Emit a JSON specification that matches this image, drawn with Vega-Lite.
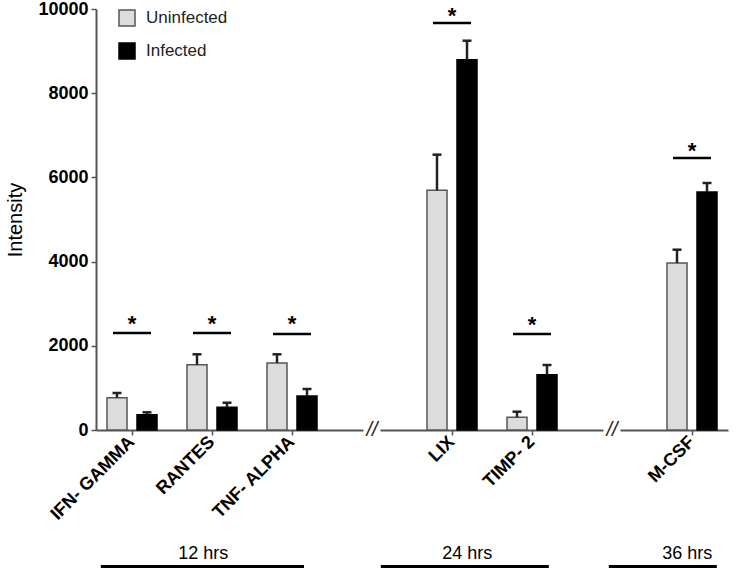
{
  "$schema": "https://vega.github.io/schema/vega-lite/v6.json",
  "width": 632,
  "height": 421,
  "padding": {"left": 5, "top": 0, "right": 5, "bottom": 2},
  "config": {
    "view": {"stroke": null},
    "font": "Liberation Sans",
    "axis": {"grid": false}
  },
  "datasets": {
    "bars": [
      {"cat": "IFN- GAMMA", "status": "Uninfected", "value": 767, "err": 879},
      {"cat": "IFN- GAMMA", "status": "Infected", "value": 364, "err": 420},
      {"cat": "RANTES", "status": "Uninfected", "value": 1551, "err": 1798},
      {"cat": "RANTES", "status": "Infected", "value": 539, "err": 648},
      {"cat": "TNF- ALPHA", "status": "Uninfected", "value": 1591, "err": 1798},
      {"cat": "TNF- ALPHA", "status": "Infected", "value": 808, "err": 974},
      {"cat": "LIX", "status": "Uninfected", "value": 5693, "err": 6540},
      {"cat": "LIX", "status": "Infected", "value": 8796, "err": 9247},
      {"cat": "TIMP- 2", "status": "Uninfected", "value": 302, "err": 435},
      {"cat": "TIMP- 2", "status": "Infected", "value": 1314, "err": 1544},
      {"cat": "M-CSF", "status": "Uninfected", "value": 3967, "err": 4283},
      {"cat": "M-CSF", "status": "Infected", "value": 5653, "err": 5867}
    ],
    "sig": [
      {"cat": "IFN- GAMMA", "line": 2304, "star": 2589},
      {"cat": "RANTES", "line": 2304, "star": 2589},
      {"cat": "TNF- ALPHA", "line": 2280, "star": 2589},
      {"cat": "LIX", "line": 9667, "star": 9905},
      {"cat": "TIMP- 2", "line": 2280, "star": 2565},
      {"cat": "M-CSF", "line": 6460, "star": 6700}
    ],
    "breaks": [
      {"cat": "break1", "y": 0, "mark": "//"},
      {"cat": "break2", "y": 0, "mark": "//"}
    ],
    "groups": [
      {"label": "12 hrs", "start": -0.39, "end": 2.15, "mid": 0.89, "ytext": -2950, "yline": -3240},
      {"label": "24 hrs", "start": 3.11, "end": 5.21, "mid": 4.19, "ytext": -2950, "yline": -3240},
      {"label": "36 hrs", "start": 5.96, "end": 7.31, "mid": 6.94, "ytext": -2950, "yline": -3240}
    ]
  },
  "resolve": {"scale": {"x": "independent"}, "axis": {"x": "independent", "y": "independent"}},
  "layer": [
    {
      "encoding": {
        "x": {
          "field": "cat",
          "type": "nominal",
          "sort": null,
          "scale": {
            "domain": ["IFN- GAMMA", "RANTES", "TNF- ALPHA", "break1", "LIX", "TIMP- 2", "break2", "M-CSF"],
            "paddingInner": 0.375,
            "paddingOuter": 0.1375
          },
          "axis": {
            "title": null,
            "values": ["IFN- GAMMA", "RANTES", "TNF- ALPHA", "LIX", "TIMP- 2", "M-CSF"],
            "labelAngle": -45,
            "labelAlign": "right",
            "labelBaseline": "middle",
            "labelFontSize": 18,
            "labelFontWeight": "bold",
            "labelColor": "#000",
            "labelPadding": 4,
            "domainColor": "#555",
            "domainWidth": 2,
            "tickColor": "#555",
            "tickSize": 5,
            "tickWidth": 1.5
          }
        }
      },
      "layer": [
        {
          "data": {"name": "bars"},
          "mark": {"type": "bar", "strokeWidth": 1.5},
          "encoding": {
            "xOffset": {
              "field": "status",
              "type": "nominal",
              "scale": {"domain": ["Uninfected", "Infected"], "paddingInner": 0.3333, "paddingOuter": 0}
            },
            "y": {
              "field": "value",
              "type": "quantitative",
              "scale": {"domain": [0, 10000], "nice": false},
              "axis": {
                "title": "Intensity",
                "titleFontSize": 20,
                "titleFontWeight": "normal",
                "titleColor": "#000",
                "titlePadding": 12,
                "values": [0, 2000, 4000, 6000, 8000, 10000],
                "format": "d",
                "labelFontSize": 18,
                "labelFontWeight": "bold",
                "labelColor": "#000",
                "labelPadding": 3,
                "domainColor": "#555",
                "domainWidth": 2,
                "tickColor": "#555",
                "tickSize": 5,
                "tickWidth": 1.5
              }
            },
            "color": {
              "field": "status",
              "type": "nominal",
              "scale": {"domain": ["Uninfected", "Infected"], "range": ["#dcdcdc", "#000000"]},
              "legend": {
                "title": null,
                "orient": "none",
                "legendX": 22,
                "legendY": 0,
                "padding": 0,
                "symbolType": "square",
                "symbolSize": 256,
                "symbolStrokeWidth": 1.5,
                "labelFontSize": 17,
                "labelColor": "#222",
                "labelOffset": 10,
                "rowPadding": 11
              }
            },
            "stroke": {
              "field": "status",
              "type": "nominal",
              "scale": {"domain": ["Uninfected", "Infected"], "range": ["#555555", "#000000"]},
              "legend": {
                "title": null,
                "orient": "none",
                "legendX": 22,
                "legendY": 0,
                "padding": 0,
                "symbolType": "square",
                "symbolSize": 256,
                "symbolStrokeWidth": 1.5,
                "labelFontSize": 17,
                "labelColor": "#222",
                "labelOffset": 10,
                "rowPadding": 11
              }
            }
          }
        },
        {
          "data": {"name": "bars"},
          "mark": {"type": "rule", "color": "#222", "strokeWidth": 2.5},
          "encoding": {
            "xOffset": {
              "field": "status",
              "type": "nominal",
              "scale": {"domain": ["Uninfected", "Infected"], "paddingInner": 0.3333, "paddingOuter": 0}
            },
            "y": {"field": "value", "type": "quantitative"},
            "y2": {"field": "err"}
          }
        },
        {
          "data": {"name": "bars"},
          "mark": {"type": "tick", "color": "#222", "opacity": 1, "thickness": 2.5, "size": 9},
          "encoding": {
            "xOffset": {
              "field": "status",
              "type": "nominal",
              "scale": {"domain": ["Uninfected", "Infected"], "paddingInner": 0.3333, "paddingOuter": 0}
            },
            "y": {"field": "err", "type": "quantitative"}
          }
        },
        {
          "data": {"name": "sig"},
          "mark": {"type": "tick", "color": "#000", "opacity": 1, "thickness": 2.5, "size": 38},
          "encoding": {
            "y": {"field": "line", "type": "quantitative"}
          }
        },
        {
          "data": {"name": "sig"},
          "mark": {"type": "text", "text": "*", "fontSize": 22, "fontWeight": "bold", "baseline": "middle", "dy": 3, "color": "#000"},
          "encoding": {
            "y": {"field": "star", "type": "quantitative"}
          }
        },
        {
          "data": {"name": "breaks"},
          "mark": {"type": "tick", "color": "#ffffff", "opacity": 1, "thickness": 5, "size": 17},
          "encoding": {
            "y": {"field": "y", "type": "quantitative"}
          }
        },
        {
          "data": {"name": "breaks"},
          "mark": {"type": "text", "fontSize": 20, "fontStyle": "italic", "baseline": "middle", "color": "#222"},
          "encoding": {
            "y": {"field": "y", "type": "quantitative"},
            "text": {"field": "mark"}
          }
        }
      ]
    },
    {
      "data": {"name": "groups"},
      "encoding": {
        "x": {"field": "start", "type": "quantitative", "scale": {"domain": [-0.45, 7.45], "nice": false, "zero": false}, "axis": null}
      },
      "layer": [
        {
          "mark": {"type": "rule", "color": "#000", "strokeWidth": 3},
          "encoding": {
            "x": {"field": "start", "type": "quantitative"},
            "x2": {"field": "end"},
            "y": {"field": "yline", "type": "quantitative", "axis": null}
          }
        },
        {
          "mark": {"type": "text", "fontSize": 18, "baseline": "middle", "color": "#000"},
          "encoding": {
            "x": {"field": "mid", "type": "quantitative"},
            "y": {"field": "ytext", "type": "quantitative", "axis": null},
            "text": {"field": "label"}
          }
        }
      ]
    }
  ]
}
